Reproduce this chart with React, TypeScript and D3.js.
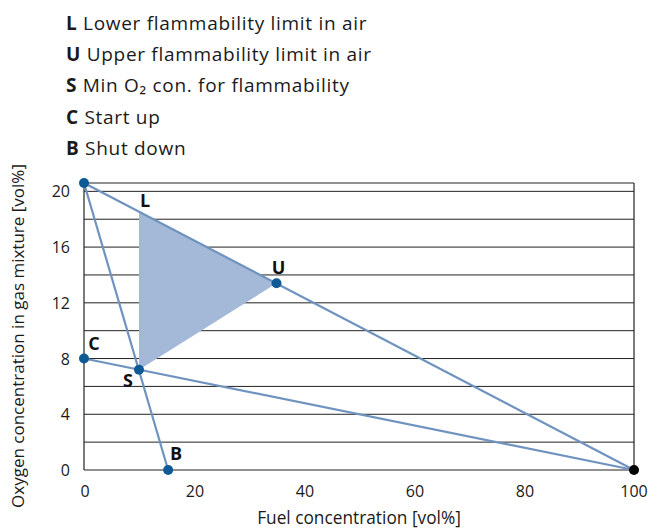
import React from "react";
import * as d3 from "d3";

const legendKeys = ["L", "U", "S", "C", "B"];
const legendTexts = [
  "Lower flammability limit in air",
  "Upper flammability limit in air",
  "Min O₂ con. for flammability",
  "Start up",
  "Shut down",
];
const xTicks = [0, 20, 40, 60, 80, 100];
const yTicks = [0, 4, 8, 12, 16, 20];
const yGrid = [2, 4, 6, 8, 10, 12, 14, 16, 18, 20];

// lines [x, y]
const airLine: [number, number][] = [[0, 20.6], [100, 0]];
const startLine: [number, number][] = [[0, 8], [100, 0]];
const shutLine: [number, number][] = [[0, 20.6], [15.3, 0]];
const flammable: [number, number][] = [[10, 18.54], [35, 13.4], [10, 7.2]];
const points: { name: string; x: number; y: number }[] = [
  { name: "", x: 0, y: 20.6 },
  { name: "U", x: 35, y: 13.4 },
  { name: "C", x: 0, y: 8 },
  { name: "S", x: 10, y: 7.2 },
  { name: "B", x: 15.3, y: 0 },
];
const labelL = { name: "L", x: 10, y: 18.54 };

export default function App() {
  const W = 649, H = 528;
  const left = 84, right = 634, top = 183, bottom = 470;
  const x = d3.scaleLinear().domain([0, 100]).range([left, right]);
  const y = d3.scaleLinear().domain([0, 20.6]).range([bottom, top]);
  const line = d3.line<[number, number]>().x(d => x(d[0])).y(d => y(d[1]));
  const font = "'Open Sans', sans-serif";
  const lineColor = "#6f93bf";
  const dotColor = "#0d5a94";

  const labelOffsets: Record<string, [number, number]> = {
    U: [2, -9],
    C: [10, -9],
    S: [-11, 17],
    B: [8, -10],
  };

  return (
    <svg width={W} height={H} style={{ position: "absolute", left: 0, top: 0 }} fontFamily={font}>
      {legendKeys.map((k, i) => (
        <text key={k} x={66} y={29.5 + i * 31.4} fontSize={19} fill="#1a1a1a" letterSpacing={0.7}>
          <tspan fontWeight="bold">{k}</tspan>
          <tspan> {legendTexts[i]}</tspan>
        </text>
      ))}
      {/* grid */}
      {yGrid.map(v => (
        <line key={v} x1={left} x2={right} y1={y(v)} y2={y(v)} stroke="#222" strokeWidth={1} />
      ))}
      <line x1={left} x2={right} y1={top} y2={top} stroke="#222" strokeWidth={1.2} />
      <line x1={right} x2={right} y1={top} y2={bottom} stroke="#222" strokeWidth={1.2} />
      <line x1={left} x2={left} y1={top} y2={bottom} stroke="#222" strokeWidth={1.2} />
      <line x1={left} x2={right} y1={bottom} y2={bottom} stroke="#222" strokeWidth={1.2} />
      {/* flammable region */}
      <path d={line(flammable)! + "Z"} fill="#a3b9d7" stroke="none" />
      {[airLine, startLine, shutLine].map((l, i) => (
        <path key={i} d={line(l)!} fill="none" stroke={lineColor} strokeWidth={2.2} />
      ))}
      {points.map((p, i) => (
        <circle key={i} cx={x(p.x)} cy={y(p.y)} r={5} fill={dotColor} />
      ))}
      <circle cx={x(100)} cy={y(0)} r={5} fill="#000" />
      {points.filter(p => p.name).map(p => (
        <text key={p.name} x={x(p.x) + labelOffsets[p.name][0]} y={y(p.y) + labelOffsets[p.name][1]} fontSize={18} fontWeight="bold" fill="#111" textAnchor="middle">
          {p.name}
        </text>
      ))}
      <text x={x(labelL.x) + 6} y={y(labelL.y) - 5} fontSize={18} fontWeight="bold" fill="#111" textAnchor="middle">
        {labelL.name}
      </text>
      {/* ticks */}
      {yTicks.map(v => (
        <text key={v} x={70} y={y(v) + 6} fontSize={16} textAnchor="end" fill="#1a1a1a">{v}</text>
      ))}
      {xTicks.map(v => (
        <text key={v} x={x(v) + (v === 100 ? 0 : 1)} y={497} fontSize={16} textAnchor="middle" fill="#1a1a1a">{v}</text>
      ))}
      <text x={359} y={524} fontSize={17.3} textAnchor="middle" fill="#1a1a1a">Fuel concentration [vol%]</text>
      <text transform={`translate(24,336) rotate(-90)`} fontSize={17} textAnchor="middle" fill="#1a1a1a">
        Oxygen concentration in gas mixture [vol%]
      </text>
    </svg>
  );
}
